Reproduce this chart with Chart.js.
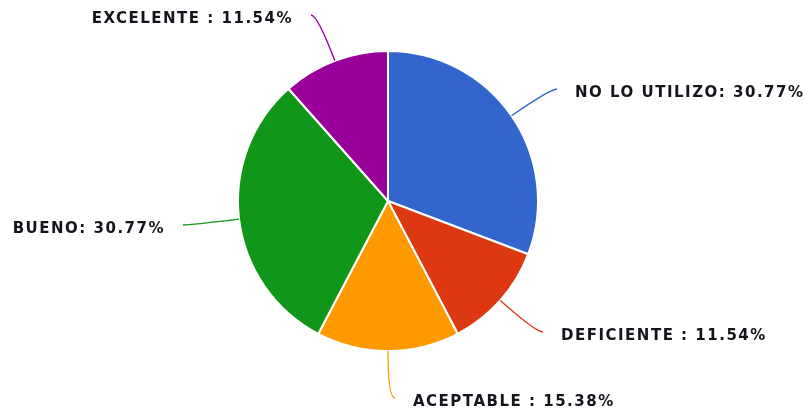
<!DOCTYPE html>
<html>
<head>
<meta charset="utf-8">
<script src="https://cdn.jsdelivr.net/npm/chart.js@4.4.1/dist/chart.umd.min.js"></script>
<style>
  html, body { margin: 0; padding: 0; background: #ffffff; }
  #wrap { width: 811px; height: 413px; position: relative; }
</style>
</head>
<body>
<div id="wrap"><canvas id="pie" width="811" height="413"></canvas></div>
<script>
// Survey answers and their share of responses (%)
const categories = ["NO LO UTILIZO", "DEFICIENTE ", "ACEPTABLE ", "BUENO", "EXCELENTE "];
const percentages = [30.77, 11.54, 15.38, 30.77, 11.54];
const sliceColors = ["#3366cc", "#dc3912", "#ff9900", "#109618", "#990099"];

// Where each callout ends, relative to the pie centre (pixels)
const calloutEnds = [[169, -112], [155, 131], [7, 197], [-205, 24], [-77, -186]];

const calloutPlugin = {
  id: 'callouts',
  afterDatasetsDraw(chart) {
    const ctx = chart.ctx;
    const meta = chart.getDatasetMeta(0);
    ctx.save();
    meta.data.forEach((arc, i) => {
      const p = arc.getProps(['x', 'y', 'startAngle', 'endAngle', 'outerRadius'], true);
      const mid = (p.startAngle + p.endAngle) / 2;
      const dx = Math.cos(mid), dy = Math.sin(mid);
      const sx = p.x + dx * p.outerRadius, sy = p.y + dy * p.outerRadius;
      const ex = p.x + calloutEnds[i][0], ey = p.y + calloutEnds[i][1];
      // control point: radial ray carried to the end's height
      let t = Math.abs(dy) > 0.05 ? (ey - sy) / dy : 40;
      if (t < 0) t = 20;
      let cx = sx + dx * t, cy = ey;
      const right = ex >= p.x;
      if (right && cx > ex) cx = ex;
      if (!right && cx < ex) cx = ex;
      ctx.beginPath();
      ctx.moveTo(sx, sy);
      ctx.quadraticCurveTo(cx, cy, ex, ey);
      ctx.strokeStyle = sliceColors[i];
      ctx.lineWidth = 1.3;
      ctx.stroke();

      const text = categories[i] + ': ' + percentages[i].toFixed(2) + '%';
      ctx.font = 'bold 15px "DejaVu Sans"';
      ctx.letterSpacing = '1.5px';
      ctx.fillStyle = '#14141c';
      ctx.textBaseline = 'middle';
      ctx.textAlign = right ? 'left' : 'right';
      ctx.fillText(text, right ? ex + 18 : ex - 18, ey + 4);
    });
    ctx.restore();
  }
};

new Chart(document.getElementById('pie'), {
  type: 'pie',
  data: {
    labels: categories,
    datasets: [{
      data: percentages,
      backgroundColor: sliceColors,
      borderColor: '#ffffff',
      borderWidth: 2
    }]
  },
  options: {
    responsive: false,
    animation: false,
    layout: { padding: { left: 237, right: 272, top: 50, bottom: 61 } },
    plugins: {
      legend: { display: false },
      tooltip: { enabled: false }
    }
  },
  plugins: [calloutPlugin]
});
</script>
</body>
</html>
